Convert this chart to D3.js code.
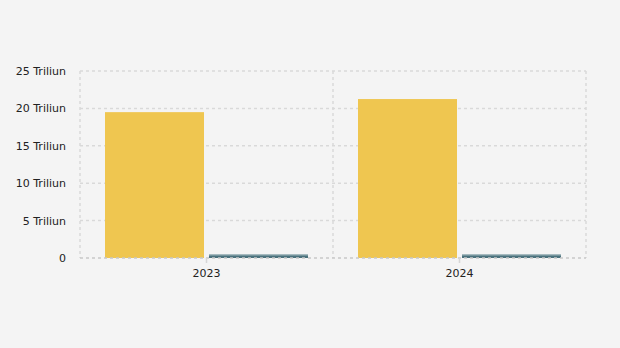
<!DOCTYPE html>
<html><head><meta charset="utf-8">
<script src="https://cdn.jsdelivr.net/npm/d3@7"></script>
<style>
html,body{margin:0;padding:0;background:#f4f4f4;}
svg{display:block;font-family:"DejaVu Sans",Verdana,sans-serif;}
</style></head><body>
<svg id="c" width="620" height="348"></svg>
<script>
const categories = ["2023", "2024"];
const seriesA = [19.5, 21.25];   // Triliun
const seriesB = [0.45, 0.45];    // Triliun
const yTicks = [0, 5, 10, 15, 20, 25];
const yTickLabels = ["0", "5 Triliun", "10 Triliun", "15 Triliun", "20 Triliun", "25 Triliun"];

const svg = d3.select("#c");
svg.append("rect").attr("width",620).attr("height",348).attr("fill","#f4f4f4");
const L = 80, R = 586, T = 71, B = 258;

const x = d3.scaleBand().domain(categories).range([L, R]).paddingInner(0).paddingOuter(0);
const inner = d3.scaleBand().domain(["a","b"]).range([25, x.bandwidth()-25]).paddingInner(0.048).paddingOuter(0);
const y = d3.scaleLinear().domain([0, 25]).range([B, T]);

const g = svg.append("g");
g.selectAll("line.h").data(yTicks.filter(d=>d>0)).join("line")
  .attr("x1", L).attr("x2", R).attr("y1", d=>y(d)).attr("y2", d=>y(d))
  .attr("stroke","#d9d9d9").attr("stroke-width",1.5).attr("stroke-dasharray","3,3");
const vx = [L, x("2024"), R];
g.selectAll("line.v").data(vx).join("line")
  .attr("x1", d=>d).attr("x2", d=>d).attr("y1", T).attr("y2", B)
  .attr("stroke","#d9d9d9").attr("stroke-width",1.5).attr("stroke-dasharray","3,3");

const bars = svg.append("g");
categories.forEach((c,i)=>{
  bars.append("rect").attr("x", x(c)+inner("a")).attr("width", inner.bandwidth())
    .attr("y", y(seriesA[i])).attr("height", y(0)-y(seriesA[i])).attr("fill","#efc650");
  bars.append("rect").attr("x", x(c)+inner("b")).attr("width", inner.bandwidth())
    .attr("y", y(seriesB[i])).attr("height", y(0)-y(seriesB[i])).attr("fill","#4b727d");
  bars.append("line").attr("x1", x(c)+inner("b")).attr("x2", x(c)+inner("b")+inner.bandwidth())
    .attr("y1", y(seriesB[i])+0.5).attr("y2", y(seriesB[i])+0.5).attr("stroke","#8ea9b0").attr("stroke-width",1);
});

svg.append("line").attr("x1", L).attr("x2", R).attr("y1", B).attr("y2", B)
  .attr("stroke","#c8c8c8").attr("stroke-width",1.5).attr("stroke-dasharray","3,3");

const xa = svg.append("g").attr("transform",`translate(0,${B})`)
  .call(d3.axisBottom(x).tickSize(5).tickSizeOuter(0).tickPadding(6));
xa.select(".domain").remove();
xa.selectAll(".tick line").attr("stroke","#d6d6d6").attr("stroke-width",1.5);
xa.selectAll(".tick text").attr("fill","#222").attr("font-size","11px").attr("font-family","DejaVu Sans, Verdana, sans-serif");

const ya = svg.append("g").attr("transform",`translate(${L},0)`)
  .call(d3.axisLeft(y).tickValues(yTicks).tickFormat((d,i)=>yTickLabels[i]).tickSize(0).tickPadding(14));
ya.select(".domain").remove();
ya.selectAll(".tick text").attr("fill","#222").attr("font-size","11px").attr("font-family","DejaVu Sans, Verdana, sans-serif");
</script>
</body></html>
